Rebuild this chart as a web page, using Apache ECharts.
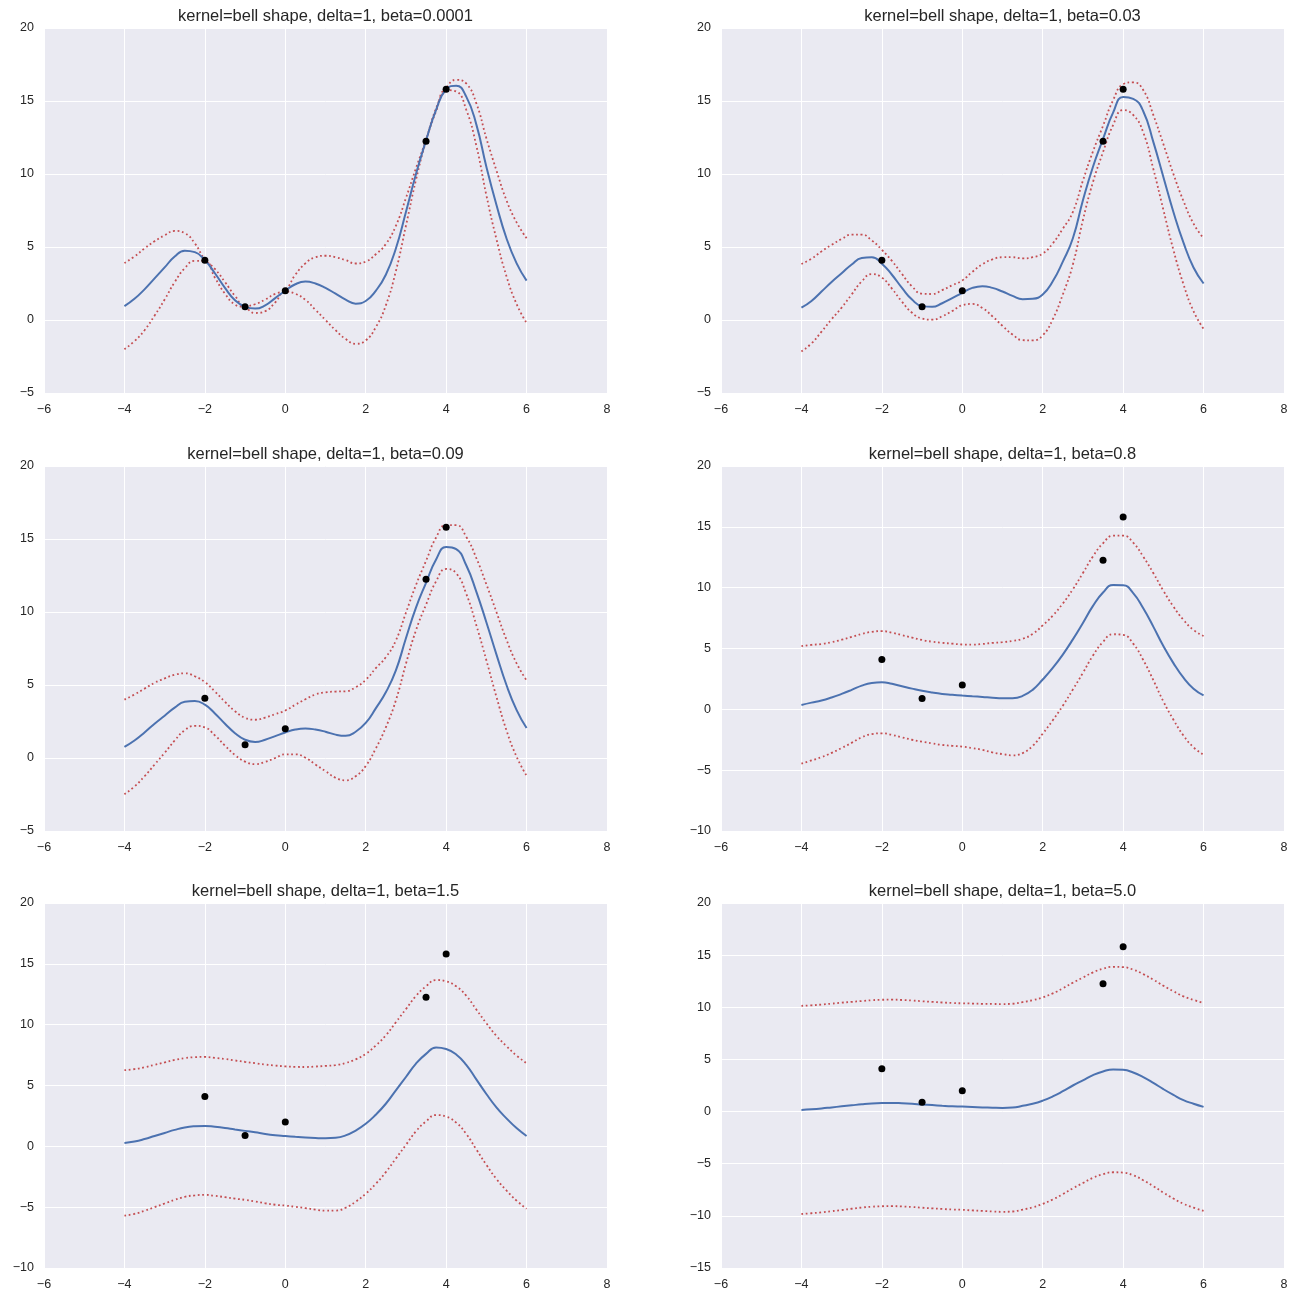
<!DOCTYPE html>
<html>
<head>
<meta charset="utf-8">
<script src="https://cdn.jsdelivr.net/npm/echarts@6/dist/echarts.min.js"></script>
<style>
html,body{margin:0;padding:0;background:#fff;}
#c{width:1297px;height:1302px;}
</style>
</head>
<body>
<div id="c"></div>
<script>
// ---- data ----
const xs = [-4,-3.75,-3.5,-3.25,-3,-2.75,-2.5,-2.25,-2,-1.75,-1.5,-1.25,-1,-0.75,-0.5,-0.25,0,0.25,0.5,0.75,1,1.25,1.5,1.75,2,2.25,2.5,2.75,3,3.25,3.5,3.75,4,4.25,4.5,4.75,5,5.25,5.5,5.75,6];

const pointsX = [-2, -1, 0, 3.5, 4];
const pointsY = [4.1, 0.9, 2.0, 12.25, 15.8];

const betas = ["0.0001", "0.03", "0.09", "0.8", "1.5", "5.0"];
const yMins = [-5, -5, -5, -10, -10, -15];
const yMax = 20;

const mean1 = [0.95,1.45,2.1,2.85,3.6,4.35,4.75,4.65,4.1,3.2,2.2,1.35,0.9,0.78,1.0,1.5,2.0,2.45,2.63,2.5,2.2,1.8,1.4,1.12,1.3,2.0,3.1,4.9,7.4,10.0,12.3,14.4,15.8,16.05,15.3,13.4,10.5,7.9,5.6,3.9,2.7];
const upper1 = [3.9,4.35,4.9,5.4,5.8,6.1,5.95,5.25,4.15,3.5,2.6,1.65,0.95,1.08,1.4,1.8,2.05,3.1,3.88,4.3,4.4,4.3,4.1,3.87,4.0,4.5,5.2,6.45,8.35,10.4,12.35,14.5,15.85,16.45,16.2,14.85,12.45,10.25,8.2,6.7,5.6];
const lower1 = [-2.0,-1.45,-0.7,0.3,1.4,2.6,3.55,4.05,4.05,2.9,1.8,1.05,0.85,0.48,0.6,1.2,1.95,1.8,1.38,0.7,0.0,-0.7,-1.3,-1.63,-1.4,-0.5,1.0,3.35,6.45,9.6,12.25,14.3,15.75,15.65,14.4,11.95,8.55,5.55,3.0,1.1,-0.2];

const mean2 = [0.84,1.3,1.95,2.6,3.2,3.8,4.25,4.3,3.86,3.1,2.2,1.4,0.95,0.9,1.15,1.5,1.86,2.2,2.32,2.2,1.95,1.65,1.42,1.45,1.75,2.65,4.0,5.6,8.2,10.5,12.4,14.2,15.28,15.15,14.3,12.2,9.8,7.4,5.3,3.6,2.5];
const upper2 = [3.84,4.2,4.7,5.15,5.55,5.85,5.85,5.45,4.81,4.05,3.15,2.3,1.8,1.78,2.05,2.38,2.71,3.3,3.82,4.15,4.3,4.3,4.22,4.3,4.55,5.25,6.25,7.4,9.55,11.55,13.3,15.05,16.15,16.28,15.75,14.05,12.05,10.0,8.15,6.6,5.6];
const lower2 = [-2.16,-1.6,-0.8,0.05,0.85,1.75,2.65,3.15,2.91,2.15,1.25,0.5,0.1,0.02,0.25,0.62,1.01,1.1,0.82,0.25,-0.4,-1.0,-1.38,-1.4,-1.05,0.05,1.75,3.8,6.85,9.45,11.5,13.35,14.38,14.05,12.85,10.35,7.55,4.8,2.45,0.6,-0.6];

const mean3 = [0.76,1.2,1.75,2.35,2.9,3.45,3.85,3.9,3.65,3.05,2.35,1.7,1.25,1.1,1.25,1.5,1.75,1.95,2.02,1.95,1.8,1.6,1.52,1.8,2.4,3.4,4.5,6.0,8.2,10.3,12.0,13.6,14.45,14.3,13.2,11.4,9.3,7.1,5.0,3.3,2.05];
const upper3 = [4.0,4.35,4.75,5.15,5.45,5.7,5.8,5.6,5.2,4.55,3.85,3.2,2.75,2.62,2.77,3.0,3.25,3.65,4.02,4.35,4.5,4.55,4.57,4.85,5.35,6.15,6.9,8.05,9.95,11.85,13.5,15.1,15.95,15.95,15.15,13.7,11.9,10.0,8.1,6.5,5.31];
const lower3 = [-2.48,-1.95,-1.25,-0.45,0.35,1.2,1.9,2.2,2.1,1.55,0.85,0.2,-0.25,-0.42,-0.27,0.0,0.25,0.25,0.02,-0.45,-0.9,-1.35,-1.53,-1.25,-0.55,0.65,2.1,3.95,6.45,8.75,10.5,12.1,12.95,12.65,11.25,9.1,6.7,4.2,1.9,0.1,-1.21];

const mean4 = [0.36,0.55,0.72,0.97,1.27,1.6,1.95,2.17,2.23,2.1,1.9,1.7,1.52,1.38,1.27,1.2,1.13,1.07,1.02,0.96,0.92,0.92,1.1,1.6,2.45,3.4,4.5,5.75,7.1,8.5,9.6,10.22,10.2,9.55,8.3,6.8,5.2,3.8,2.6,1.7,1.15];
const upper4 = [5.19,5.3,5.37,5.52,5.72,5.95,6.2,6.37,6.43,6.3,6.1,5.9,5.7,5.56,5.47,5.4,5.33,5.32,5.37,5.46,5.52,5.62,5.8,6.2,6.9,7.7,8.7,9.87,11.2,12.58,13.65,14.27,14.28,13.7,12.55,11.2,9.75,8.45,7.35,6.52,6.03];
const lower4 = [-4.47,-4.2,-3.93,-3.58,-3.18,-2.75,-2.3,-2.03,-1.97,-2.1,-2.3,-2.5,-2.66,-2.8,-2.93,-3.0,-3.07,-3.18,-3.33,-3.54,-3.68,-3.78,-3.6,-3.0,-2.0,-0.9,0.3,1.63,3.0,4.42,5.55,6.17,6.12,5.4,4.05,2.4,0.65,-0.85,-2.15,-3.12,-3.73];

const mean5 = [0.28,0.4,0.6,0.85,1.1,1.35,1.55,1.65,1.68,1.6,1.5,1.38,1.27,1.15,1.02,0.92,0.85,0.78,0.72,0.68,0.66,0.7,0.9,1.3,1.85,2.6,3.5,4.6,5.7,6.8,7.6,8.12,8.0,7.55,6.7,5.5,4.3,3.2,2.3,1.5,0.85];
const upper5 = [6.26,6.35,6.5,6.7,6.9,7.1,7.25,7.33,7.35,7.27,7.18,7.06,6.94,6.83,6.72,6.64,6.57,6.53,6.52,6.56,6.61,6.68,6.85,7.15,7.6,8.28,9.12,10.2,11.28,12.36,13.15,13.67,13.56,13.15,12.38,11.25,10.12,9.08,8.23,7.46,6.83];
const lower5 = [-5.7,-5.55,-5.3,-5.0,-4.7,-4.4,-4.15,-4.03,-3.99,-4.07,-4.18,-4.3,-4.4,-4.53,-4.68,-4.8,-4.87,-4.97,-5.08,-5.2,-5.29,-5.28,-5.05,-4.55,-3.9,-3.08,-2.12,-1.0,0.12,1.24,2.05,2.57,2.44,1.95,1.02,-0.25,-1.52,-2.68,-3.63,-4.46,-5.13];

const mean6 = [0.16,0.22,0.3,0.4,0.5,0.6,0.7,0.78,0.82,0.83,0.8,0.75,0.68,0.62,0.56,0.51,0.48,0.44,0.4,0.37,0.35,0.38,0.55,0.75,1.05,1.45,1.95,2.5,3.0,3.5,3.85,4.03,4.0,3.75,3.3,2.75,2.15,1.6,1.1,0.75,0.45];
const upper6 = [10.14,10.19,10.26,10.35,10.44,10.52,10.6,10.68,10.72,10.73,10.7,10.65,10.58,10.52,10.46,10.41,10.38,10.36,10.33,10.32,10.31,10.34,10.5,10.68,10.95,11.33,11.82,12.36,12.85,13.35,13.7,13.88,13.85,13.61,13.18,12.65,12.07,11.54,11.05,10.71,10.42];
const lower6 = [-9.82,-9.75,-9.66,-9.55,-9.44,-9.32,-9.2,-9.12,-9.08,-9.07,-9.1,-9.15,-9.22,-9.28,-9.34,-9.39,-9.42,-9.48,-9.53,-9.58,-9.61,-9.58,-9.4,-9.18,-8.85,-8.43,-7.92,-7.36,-6.85,-6.35,-6.0,-5.82,-5.85,-6.11,-6.58,-7.15,-7.77,-8.34,-8.85,-9.21,-9.52];

const means = [mean1, mean2, mean3, mean4, mean5, mean6];
const uppers = [upper1, upper2, upper3, upper4, upper5, upper6];
const lowers = [lower1, lower2, lower3, lower4, lower5, lower6];

// ---- layout / style ----
const colLeft = [44, 721];
const rowTop = [28, 466, 903];
const plotW = 563, plotH = 365;
const textColor = '#262626';
const font = 'Liberation Sans, Arial, sans-serif';
const fmt = v => String(v).replace('-', '\u2212');

const pairs = ys => xs.map((x, i) => [x, ys[i]]);

const grids = [], xAxes = [], yAxes = [], titles = [], series = [];
for (let i = 0; i < 6; i++) {
  const r = Math.floor(i / 2), c = i % 2;
  const left = colLeft[c], top = rowTop[r];
  grids.push({left: left, top: top, width: plotW, height: plotH, show: true,
              backgroundColor: '#EAEAF2', borderWidth: 0, containLabel: false});
  const axisCommon = {
    gridIndex: i, type: 'value',
    axisLine: {show: false}, axisTick: {show: false},
    splitLine: {show: true, lineStyle: {color: '#ffffff', width: 1}},
    axisLabel: {color: textColor, fontSize: 12.5, fontFamily: font, margin: 10,
                showMinLabel: true, showMaxLabel: true, formatter: fmt}
  };
  xAxes.push(Object.assign({}, axisCommon, {min: -6, max: 8, interval: 2}));
  yAxes.push(Object.assign({}, axisCommon, {min: yMins[i], max: yMax, interval: 5}));
  titles.push({text: 'kernel=bell shape, delta=1, beta=' + betas[i],
               left: left + plotW / 2, top: top - 20, textAlign: 'center', padding: 0,
               textStyle: {color: textColor, fontSize: 16.5, fontWeight: 'normal', fontFamily: font}});
  series.push({type: 'line', xAxisIndex: i, yAxisIndex: i, data: pairs(means[i]),
               symbol: 'none', smooth: 0.5, lineStyle: {color: '#4C72B0', width: 2}, z: 3});
  series.push({type: 'line', xAxisIndex: i, yAxisIndex: i, data: pairs(uppers[i]),
               symbol: 'none', smooth: 0.5, lineStyle: {color: '#C44E52', width: 1.8, type: [1.8, 2.7]}, z: 2});
  series.push({type: 'line', xAxisIndex: i, yAxisIndex: i, data: pairs(lowers[i]),
               symbol: 'none', smooth: 0.5, lineStyle: {color: '#C44E52', width: 1.8, type: [1.8, 2.7]}, z: 2});
  series.push({type: 'scatter', xAxisIndex: i, yAxisIndex: i,
               data: pointsX.map((x, k) => [x, pointsY[k]]),
               symbol: 'circle', symbolSize: 7, itemStyle: {color: '#000000', opacity: 1}, z: 4});
}

const chart = echarts.init(document.getElementById('c'), null, {renderer: 'canvas'});
chart.setOption({
  animation: false,
  backgroundColor: '#ffffff',
  title: titles,
  grid: grids,
  xAxis: xAxes,
  yAxis: yAxes,
  series: series
});
</script>
</body>
</html>
